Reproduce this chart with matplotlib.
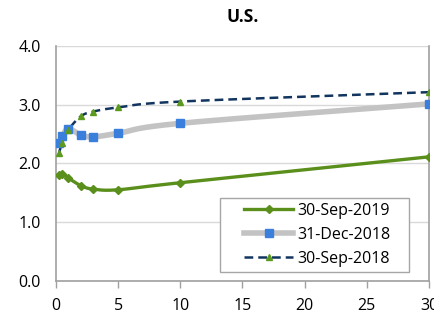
"""U.S. Treasury yield curves at three dates."""

import matplotlib.pyplot as plt
import numpy as np
from matplotlib.legend_handler import HandlerLine2D

plt.rcParams["font.family"] = ["Open Sans", "DejaVu Sans"]

# maturity in years
maturity = [0.25, 0.5, 1, 2, 3, 5, 10, 30]

yield_sep2019 = [1.80, 1.82, 1.75, 1.62, 1.56, 1.55, 1.67, 2.11]
yield_dec2018 = [2.35, 2.46, 2.59, 2.48, 2.45, 2.51, 2.68, 3.01]
yield_sep2018 = [2.18, 2.35, 2.57, 2.80, 2.88, 2.95, 3.05, 3.21]

labels = ["30-Sep-2019", "31-Dec-2018", "30-Sep-2018"]
x_ticks = [0, 5, 10, 15, 20, 25, 30]
y_ticks = [0.0, 1.0, 2.0, 3.0, 4.0]


def smooth(x, y, n=20):
    """Catmull-Rom path through the points, like a spreadsheet smoothed line."""
    x = np.asarray(x, float)
    y = np.asarray(y, float)
    px = np.concatenate([[2 * x[0] - x[1]], x, [2 * x[-1] - x[-2]]])
    py = np.concatenate([[2 * y[0] - y[1]], y, [2 * y[-1] - y[-2]]])
    t = np.linspace(0, 1, n)
    xs, ys = [], []
    for i in range(1, len(px) - 2):
        for p, out in ((px, xs), (py, ys)):
            p0, p1, p2, p3 = p[i - 1], p[i], p[i + 1], p[i + 2]
            out.append(0.5 * ((2 * p1) + (-p0 + p2) * t
                              + (2 * p0 - 5 * p1 + 4 * p2 - p3) * t ** 2
                              + (-p0 + 3 * p1 - 3 * p2 + p3) * t ** 3))
    return np.concatenate(xs), np.concatenate(ys)


fig = plt.figure(figsize=(4.35, 3.26), dpi=100)
ax = fig.add_axes([0.1287, 0.1383, 0.8575, 0.7215])

styles = [
    dict(color="#5a8f1c", lw=2.4, ls="-", marker="D", ms=4, mfc="#5a8f1c", mec="#5a8f1c"),
    dict(color="#c3c3c3", lw=4.0, ls="-", marker="s", ms=6.2, mfc="#3b7fdd", mec="#3b7fdd"),
    dict(color="#12355f", lw=1.8, ls=(0, (3.5, 2)), marker="^", ms=5, mfc="#5c9a1f", mec="#5c9a1f"),
]

handles = []
for ys, lab, st in zip([yield_sep2019, yield_dec2018, yield_sep2018], labels, styles):
    sx, sy = smooth(maturity, ys)
    ax.plot(sx, sy, color=st["color"], lw=st["lw"], ls=st["ls"], zorder=2)
    ax.plot(maturity, ys, ls="none", marker=st["marker"], ms=st["ms"],
            mfc=st["mfc"], mec=st["mec"], zorder=3)
    h, = ax.plot([], [], color=st["color"], lw=st["lw"], ls=st["ls"],
                 marker=st["marker"], ms=st["ms"], mfc=st["mfc"], mec=st["mec"])
    handles.append(h)

ax.set_xlim(0, 30)
ax.set_ylim(0, 4)
ax.set_xticks(x_ticks)
ax.set_yticks(y_ticks)
ax.set_yticklabels([f"{v:.1f}" for v in y_ticks])
ax.tick_params(axis="y", length=0, pad=11, labelsize=11.5)
ax.tick_params(axis="x", length=5, width=1, color="#a0a0a0", pad=7, labelsize=11.5,
               direction="out")
ax.grid(axis="y", color="#d9d9d9", lw=1)
ax.set_axisbelow(True)
ax.spines["top"].set_visible(False)
for side in ("left", "right", "bottom"):
    ax.spines[side].set_color("#a0a0a0")
    ax.spines[side].set_linewidth(1.2)

ax.set_title("U.S.", fontsize=12.5, fontweight="bold", pad=17)

# legend box spans a fixed width; handles are inset from the left edge
leg = ax.legend(handles, labels, loc="lower left", bbox_to_anchor=(0.4397, 0.039, 0.5067, 0),
                mode="expand", borderaxespad=0, fontsize=11.5, handlelength=4.3,
                handletextpad=0.25, labelspacing=0.5, fancybox=False, framealpha=1,
                borderpad=0.3, handler_map={h: HandlerLine2D(xpad=1.2) for h in handles})
leg.get_frame().set_edgecolor("#a6a6a6")
leg.get_frame().set_linewidth(1)

fig.savefig("out.png", dpi=100)
